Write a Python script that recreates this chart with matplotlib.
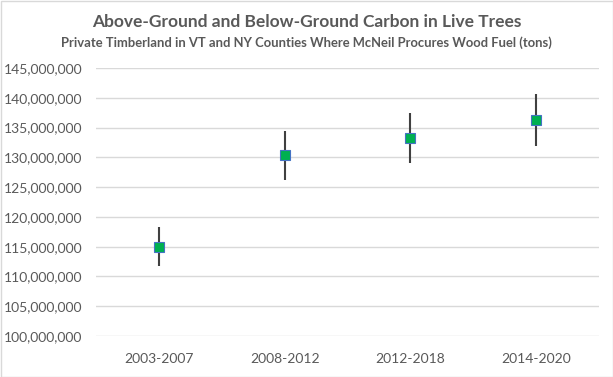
import matplotlib.pyplot as plt
from matplotlib.ticker import FuncFormatter
from matplotlib.patches import Rectangle

# data (tons)
periods = ["2003-2007", "2008-2012", "2012-2018", "2014-2020"]
carbon = [115.0e6, 130.4e6, 133.3e6, 136.2e6]
upper = [118.3e6, 134.4e6, 137.5e6, 140.6e6]
lower = [111.8e6, 126.2e6, 129.0e6, 131.9e6]

text_gray = "#595959"
plt.rcParams["font.family"] = ["Lato", "DejaVu Sans"]

W, H = 613, 377
fig = plt.figure(figsize=(W / 100, H / 100), dpi=100)
ax = fig.add_axes([96 / W, 1 - 336 / H, 503 / W, 268 / H])

x = list(range(len(periods)))
err_lo = [c - l for c, l in zip(carbon, lower)]
err_hi = [u - c for c, u in zip(carbon, upper)]
ax.errorbar(x, carbon, yerr=[err_lo, err_hi], fmt="none",
            ecolor="#404040", elinewidth=1.5, capsize=0, zorder=3)
ax.plot(x, carbon, linestyle="none", marker="s", markersize=6.5,
        markerfacecolor="#00B050", markeredgecolor="#4472C4",
        markeredgewidth=0.8, zorder=4)

ax.set_xlim(-0.5, len(periods) - 0.5)
ax.set_ylim(100e6, 145e6)
ax.set_yticks([100e6 + 5e6 * i for i in range(10)])
ax.yaxis.set_major_formatter(FuncFormatter(lambda v, p: f"{v:,.0f}"))
ax.set_xticks(x)
ax.set_xticklabels(periods)
ax.grid(axis="y", color="#D9D9D9", linewidth=1)
ax.set_axisbelow(True)
for s in ax.spines.values():
    s.set_visible(False)
ax.tick_params(length=0, labelsize=10, colors=text_gray, pad=10)
ax.tick_params(axis="x", pad=12)

fig.text(0.5, 1 - 22 / H, "Above-Ground and Below-Ground Carbon in Live Trees",
         ha="center", va="center", fontsize=12.5, fontweight="bold", color=text_gray)
fig.text(0.5, 1 - 43 / H,
         "Private Timberland in VT and NY Counties Where McNeil Procures Wood Fuel (tons)",
         ha="center", va="center", fontsize=9.4, fontweight="bold", color=text_gray)

fig.patches.append(Rectangle((0.5 / W, 0.5 / H), 1 - 1 / W, 1 - 1 / H,
                             transform=fig.transFigure, fill=False,
                             edgecolor="#D9D9D9", linewidth=1))

fig.savefig("out.png", dpi=100)
